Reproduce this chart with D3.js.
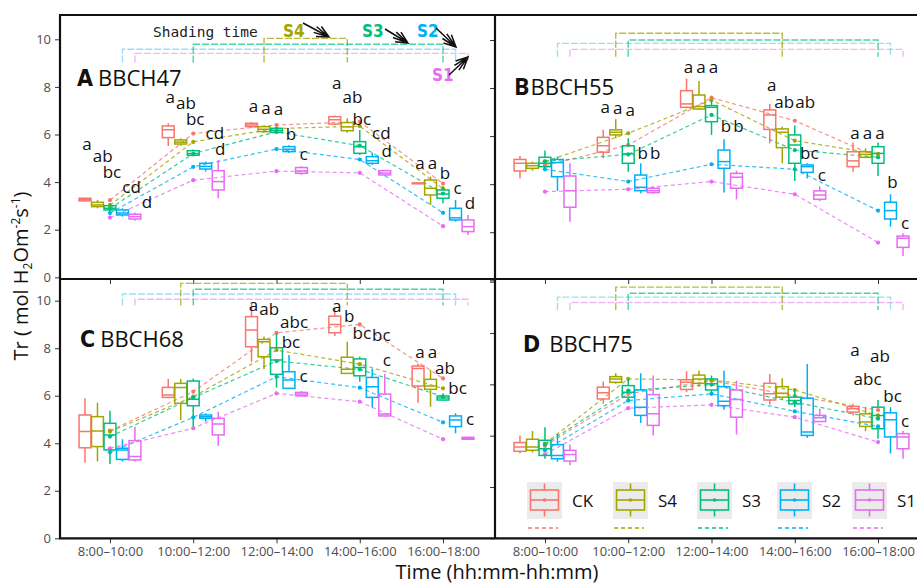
<!DOCTYPE html>
<html>
<head>
<meta charset="utf-8">
<script src="https://cdn.jsdelivr.net/npm/d3@7"></script>
<style>
  body { margin: 0; background: #fff; }
  svg text { font-family: "Open Sans", "DejaVu Sans", sans-serif; }
</style>
</head>
<body>
<svg id="chart" width="917" height="585"></svg>
<script>
const times = ["8:00\u201310:00", "10:00\u201312:00", "12:00\u201314:00", "14:00\u201316:00", "16:00\u201318:00"];
const series = ["CK", "S4", "S3", "S2", "S1"];
const stages = ["BBCH47", "BBCH55", "BBCH68", "BBCH75"];
const tags = ["A", "B", "C", "D"];
const yTicks = [0, 2, 4, 6, 8, 10];

// boxes: per time slot, per series -> [min, q1, median, q3, max]
const boxA = [
  [[3.17,3.21,3.26,3.32,3.35],[2.90,2.97,3.04,3.15,3.25],[2.76,2.83,2.90,3.01,3.11],[2.55,2.62,2.70,2.83,2.90],[2.38,2.45,2.55,2.65,2.72]],
  [[5.52,5.87,6.20,6.36,6.47],[5.53,5.60,5.68,5.77,5.84],[5.08,5.13,5.20,5.32,5.37],[4.44,4.55,4.66,4.79,4.86],[3.32,3.67,4.02,4.48,4.93]],
  [[6.28,6.33,6.40,6.47,6.52],[6.07,6.12,6.22,6.33,6.38],[6.04,6.09,6.17,6.26,6.30],[5.22,5.28,5.38,5.49,5.55],[4.30,4.37,4.47,4.61,4.67]],
  [[6.40,6.44,6.62,6.75,6.80],[6.08,6.16,6.32,6.50,6.68],[5.14,5.21,5.49,5.70,6.19],[4.72,4.79,4.90,5.07,5.24],[4.25,4.30,4.38,4.48,4.52]],
  [[3.92,3.93,3.95,3.96,3.98],[3.04,3.46,3.74,4.09,4.23],[3.11,3.32,3.50,3.67,3.81],[2.34,2.41,2.50,2.90,3.25],[1.78,1.92,2.13,2.41,2.62]]
];
const boxB = [
  [[4.24,4.55,4.87,5.03,5.17],[4.56,4.66,4.77,4.87,4.94],[4.66,4.73,4.87,5.12,5.40],[3.72,4.31,4.90,5.03,5.15],[2.44,3.04,3.73,4.34,4.87]],
  [[5.08,5.33,5.60,5.95,6.26],[5.91,6.05,6.16,6.26,6.71],[4.52,4.87,5.26,5.60,5.91],[3.62,3.73,3.87,4.38,4.87],[3.60,3.65,3.73,3.83,3.90]],
  [[7.16,7.20,7.34,7.89,8.40],[7.09,7.13,7.23,7.71,8.29],[6.05,6.60,7.20,7.27,7.50],[3.65,4.66,4.94,5.42,5.87],[3.37,3.83,4.29,4.45,4.56]],
  [[5.70,6.28,6.88,7.09,7.34],[4.87,5.52,6.16,6.30,6.39],[4.13,4.87,5.63,6.05,6.44],[4.24,4.49,4.73,4.80,4.87],[3.30,3.37,3.55,3.72,3.90]],
  [[4.52,4.73,4.97,5.35,5.73],[5.08,5.12,5.24,5.35,5.49],[4.34,4.87,5.28,5.56,5.73],[2.23,2.55,2.90,3.25,3.58],[1.01,1.37,1.75,1.84,1.96]]
];
const boxC = [
  [[3.18,3.81,4.49,5.19,5.89],[3.23,3.86,4.52,5.12,5.71],[3.13,3.72,4.35,4.84,5.37],[3.23,3.32,3.72,3.79,4.17],[3.23,3.30,3.44,4.11,4.70]],
  [[5.93,5.93,6.03,6.35,6.70],[4.98,5.68,6.35,6.52,6.70],[4.70,5.58,5.85,6.62,6.73],[4.91,5.05,5.12,5.19,5.26],[3.90,4.35,4.81,5.05,5.33]],
  [[7.43,8.06,8.77,9.33,9.89],[7.11,7.64,8.27,8.37,8.49],[6.35,6.90,7.50,8.02,8.63],[6.31,6.31,6.66,7.01,7.71],[5.97,6.00,6.07,6.14,6.20]],
  [[8.51,8.65,9.00,9.35,9.68],[6.91,6.94,7.11,7.62,8.27],[6.59,6.84,7.19,7.55,7.64],[5.50,5.93,6.38,6.77,7.15],[5.12,5.15,5.23,6.07,6.91]],
  [[5.71,6.41,7.15,7.25,7.36],[5.54,6.27,6.41,6.69,7.08],[5.79,5.82,5.90,5.99,6.10],[4.42,4.70,4.98,5.15,5.26],[4.15,4.17,4.20,4.25,4.27]]
];
const boxD = [
  [[3.30,3.39,3.56,3.73,4.01],[3.34,3.43,3.56,3.86,4.18],[3.10,3.23,3.49,3.82,4.33],[2.98,3.10,3.23,3.65,4.07],[2.85,3.01,3.27,3.43,3.66]],
  [[5.24,5.43,5.67,5.89,6.11],[6.02,6.08,6.21,6.30,6.43],[5.30,5.50,5.69,5.95,6.21],[4.49,4.79,5.11,5.78,6.43],[4.01,4.40,4.85,5.60,6.34]],
  [[5.69,5.80,6.08,6.18,6.51],[5.91,6.04,6.21,6.36,6.53],[5.63,5.78,6.02,6.21,6.34],[5.01,5.17,5.34,5.91,6.53],[4.05,4.72,5.41,5.78,6.14]],
  [[5.21,5.39,5.63,6.04,6.40],[5.39,5.50,5.65,5.91,6.24],[5.11,5.24,5.37,5.50,5.78],[3.92,4.01,4.14,5.46,6.79],[4.53,4.55,4.70,4.79,5.05]],
  [[4.79,4.92,5.05,5.14,5.24],[4.18,4.36,4.53,4.85,5.11],[3.88,4.27,4.79,5.11,5.39],[3.30,3.95,4.62,4.89,5.11],[3.10,3.49,3.95,4.08,4.18]]
];

// means: per time slot, per series
const meanA = [[3.24,3.03,2.89,2.70,2.51],[6.04,5.69,5.20,4.64,4.08],[6.40,6.25,6.11,5.39,4.46],[6.54,6.35,5.53,4.95,4.39],[3.94,3.73,3.52,2.71,2.15]];
const meanB = [[4.77,4.94,4.95,4.62,3.69],[5.63,6.12,5.24,4.11,3.79],[7.60,7.50,6.88,4.83,4.11],[6.64,5.81,5.42,4.62,3.58],[5.12,5.26,5.12,2.90,1.57]];
const meanC = [[4.53,4.49,4.28,3.62,3.79],[6.17,5.96,5.92,5.09,4.63],[8.65,7.92,7.46,6.80,6.10],[9.00,7.33,7.11,6.34,5.75],[6.73,6.31,5.96,4.88,4.17]];
const meanD = [[3.60,3.69,3.66,3.43,3.27],[5.63,6.21,5.76,5.37,5.07],[6.14,6.17,5.99,5.63,5.20],[5.55,5.78,5.30,4.95,4.72],[5.00,4.79,4.66,4.36,3.75]];

// significance letters: [time slot, series, letters, y]
const letterA = [
  [0,0,"a",5.55],[0,1,"ab",5.06],[0,2,"bc",4.39],[0,3,"cd",3.77],[0,4,"d",3.14],
  [1,0,"a",7.52],[1,1,"ab",7.28],[1,2,"bc",6.63],[1,3,"cd",6.04],[1,4,"d",5.34],
  [2,0,"a",7.17],[2,1,"a",7.07],[2,2,"a",7.03],[2,3,"b",5.97],[2,4,"c",5.13],
  [3,0,"a",8.12],[3,1,"ab",7.52],[3,2,"bc",6.63],[3,3,"cd",6.04],[3,4,"d",5.27],
  [4,0,"a",4.75],[4,1,"a",4.75],[4,2,"b",4.36],[4,3,"c",3.69],[4,4,"d",3.07]
];
const letterB = [
  [1,0,"a",7.16],[1,1,"a",7.12],[1,2,"a",7.06],[1,3,"b",5.26],[1,4,"b",5.26],
  [2,0,"a",8.82],[2,1,"a",8.82],[2,2,"a",8.82],[2,3,"b",6.37],[2,4,"b",6.37],
  [3,0,"a",8.09],[3,1,"ab",7.39],[3,2,"ab",7.39],[3,3,"bc",5.26],[3,4,"c",4.32],
  [4,0,"a",6.09],[4,1,"a",6.09],[4,2,"a",6.09],[4,3,"b",4.06],[4,4,"c",2.34]
];
const letterC = [
  [2,0,"a",9.78],[2,1,"ab",9.61],[2,2,"abc",9.07],[2,3,"bc",8.23],[2,4,"c",6.77],
  [3,0,"a",9.72],[3,1,"b",9.30],[3,2,"bc",8.60],[3,3,"bc",8.53],[3,4,"c",7.47],
  [4,0,"a",7.81],[4,1,"a",7.81],[4,2,"ab",7.11],[4,3,"bc",6.27],[4,4,"c",4.98]
];
const letterD = [[4,0,"a",7.28],[4,1,"abc",6.17],[4,2,"ab",7.07],[4,3,"bc",5.52],[4,4,"c",4.53]];

// shading period of S4, S3, S2, S1: [first slot, last slot]
const shadeA = [[2,3],[1,4],[0,4],[0,4]];
const shadeB = [[1,3],[1,4],[0,4],[0,4]];
const shadeC = [[1,3],[1,4],[0,4],[0,4]];
const shadeD = [[1,3],[1,4],[0,4],[0,4]];

const colors = ["#F8766D", "#A3A500", "#00BF7D", "#00B0F6", "#E76BF3"];
const bracketOpacity = [0.75, 0.7, 0.4, 0.5];

const svg = d3.select("#chart");

const panels = [
  {boxes: boxA, means: meanA, letters: letterA, shade: shadeA, x0: 60, x1: 495, top: 15, bottom: 279,
   y0: 277.3, y10: 39.3, levels: [10.04, 9.79, 9.58, 9.41], legs: 9.03, yLabels: true, xLabels: false,
   tagX: 77, tagY: 86, gap: 5, boldTag: false},
  {boxes: boxB, means: meanB, letters: letterB, shade: shadeB, x0: 495, x1: 930, top: 15, bottom: 279,
   y0: 280.3, y10: 40, levels: [10.28, 10.0, 9.86, 9.61], legs: 9.3, yLabels: false, xLabels: false,
   tagX: 514, tagY: 95, gap: 1, boldTag: true},
  {boxes: boxC, means: meanC, letters: letterC, shade: shadeC, x0: 60, x1: 495, top: 279, bottom: 538.3,
   y0: 538.3, y10: 300.7, levels: [10.73, 10.48, 10.28, 10.06], legs: 9.8, yLabels: true, xLabels: true,
   tagX: 80, tagY: 347, gap: 5, boldTag: false},
  {boxes: boxD, means: meanD, letters: letterD, shade: shadeD, x0: 495, x1: 930, top: 279, bottom: 538.3,
   y0: 538.3, y10: 281.7, levels: [9.79, 9.55, 9.40, 9.19], legs: 8.9, yLabels: false, xLabels: true,
   tagX: 523, tagY: 352, gap: 9, boldTag: false}
];

panels.forEach((p, pi) => {
  const g = svg.append("g");
  const clipId = "clip" + pi;
  svg.append("clipPath").attr("id", clipId).append("rect")
    .attr("x", p.x0).attr("y", p.top).attr("width", p.x1 - p.x0).attr("height", p.bottom - p.top);
  const body = g.append("g").attr("clip-path", `url(#${clipId})`);

  const x = d3.scalePoint().domain(times).range([p.x0, p.x1 - 2]).padding(0.6);
  const dodge = d3.scaleBand().domain(series).range([-x.step() * 0.375, x.step() * 0.375]);
  const y = d3.scaleLinear().domain([0, 10]).range([p.y0, p.y10]);
  const bw = dodge.bandwidth() * 0.95;
  const bx = (ti, si) => x(times[ti]) + dodge(series[si]) + dodge.bandwidth() / 2;

  // shading brackets
  p.shade.forEach((span, k) => {
    const si = k + 1;
    const xs = bx(span[0], si), xe = bx(span[1], si);
    body.append("path")
      .attr("d", `M${xs},${y(p.legs)}V${y(p.levels[k])}H${xe}V${y(p.legs)}`)
      .attr("fill", "none")
      .attr("stroke", colors[si])
      .attr("stroke-opacity", bracketOpacity[k])
      .attr("stroke-width", 1.4)
      .attr("stroke-dasharray", "7,2");
  });

  // mean lines and points
  series.forEach((s, si) => {
    const pts = times.map((t, ti) => [x(t), y(p.means[ti][si])]);
    body.append("path")
      .attr("d", d3.line()(pts))
      .attr("fill", "none")
      .attr("stroke", colors[si])
      .attr("stroke-opacity", 0.8)
      .attr("stroke-width", 1.2)
      .attr("stroke-dasharray", "4,3");
    body.selectAll(null).data(pts).enter().append("circle")
      .attr("cx", d => d[0]).attr("cy", d => d[1]).attr("r", 2.1)
      .attr("fill", colors[si]);
  });

  // boxes
  p.boxes.forEach((slot, ti) => {
    slot.forEach((b, si) => {
      const cx = bx(ti, si);
      const bg = body.append("g").attr("stroke", colors[si]).attr("stroke-width", 1.5).attr("fill", "none");
      bg.append("line").attr("x1", cx).attr("x2", cx).attr("y1", y(b[4])).attr("y2", y(b[3]));
      bg.append("line").attr("x1", cx).attr("x2", cx).attr("y1", y(b[1])).attr("y2", y(b[0]));
      bg.append("rect").attr("x", cx - bw / 2).attr("width", bw)
        .attr("y", y(b[3])).attr("height", Math.max(0.5, y(b[1]) - y(b[3])));
      bg.append("line").attr("x1", cx - bw / 2).attr("x2", cx + bw / 2).attr("y1", y(b[2])).attr("y2", y(b[2]));
    });
  });

  // significance letters, nudged right when they collide
  const placed = [];
  p.letters.forEach(([ti, si, txt, v]) => {
    const base = y(v) + 5;
    const t = body.append("text").attr("font-size", 17).attr("fill", "#111")
      .attr("text-anchor", "middle").attr("y", base).text(txt);
    const w = t.node().getComputedTextLength();
    const h = /[bd]/.test(txt) ? 14 : 11;
    let cx = bx(ti, si) + 2;
    placed.filter(q => q.ti === ti).forEach(q => {
      const vOverlap = base - h < q.base + 1 && q.base - q.h < base + 1;
      if (vOverlap && cx - w / 2 < q.right + 1) cx = q.right + 1 + w / 2;
    });
    t.attr("x", cx);
    placed.push({ti, base, h, right: cx + w / 2});
  });

  // panel tag
  const lab = g.append("text").attr("x", p.tagX).attr("y", p.tagY).attr("fill", "#111");
  lab.append("tspan").text(tags[pi])
    .attr("font-weight", "bold")
    .attr("font-size", 23)
    .style("font-family", p.boldTag ? "'Open Sans', sans-serif" : "'DejaVu Sans Condensed', 'DejaVu Sans', sans-serif")
    .style("font-stretch", p.boldTag ? "normal" : "condensed");
  lab.append("tspan").text(stages[pi]).attr("dx", p.gap).attr("font-size", 22);

  // axes
  const yAxis = d3.axisLeft(y).tickValues(yTicks).tickSize(5).tickPadding(4)
    .tickFormat(p.yLabels ? d3.format("d") : () => "");
  const ya = g.append("g").attr("transform", `translate(${p.x0},0)`).call(yAxis);
  const xAxis = d3.axisBottom(x).tickSize(5).tickPadding(3.5)
    .tickFormat(p.xLabels ? d => d : () => "");
  const xa = g.append("g").attr("transform", `translate(0,${p.bottom})`).call(xAxis);
  [ya, xa].forEach(a => {
    a.select(".domain").remove();
    a.selectAll(".tick line").attr("stroke", "#333");
    a.selectAll(".tick text").attr("fill", "#4d4d4d").attr("font-size", 13)
      .style("font-family", "'Open Sans', sans-serif");
  });

  // legend inside panel D
  if (pi === 3) {
    const legendX = [527, 613, 697, 777, 852];
    series.forEach((s, si) => {
      const lg = g.append("g").attr("transform", `translate(${legendX[si]},482)`);
      lg.append("rect").attr("width", 35).attr("height", 37).attr("fill", "#ebebeb");
      const kb = lg.append("g").attr("stroke", colors[si]).attr("stroke-width", 1.6).attr("fill", "none");
      kb.append("line").attr("x1", 17.5).attr("x2", 17.5).attr("y1", 1.5).attr("y2", 8);
      kb.append("line").attr("x1", 17.5).attr("x2", 17.5).attr("y1", 28).attr("y2", 34.5);
      kb.append("rect").attr("x", 3.5).attr("y", 8).attr("width", 28).attr("height", 20);
      kb.append("line").attr("x1", 3.5).attr("x2", 31.5).attr("y1", 18).attr("y2", 18);
      lg.append("circle").attr("cx", 17.5).attr("cy", 18).attr("r", 1.8).attr("fill", colors[si]);
      lg.append("text").attr("x", 45).attr("y", 24.5).attr("font-size", 17).attr("fill", "#111").text(s);
      lg.append("line").attr("x1", 1).attr("x2", 31).attr("y1", 46).attr("y2", 46)
        .attr("stroke", colors[si]).attr("stroke-width", 1.4).attr("stroke-dasharray", "4,3");
    });
  }
});

// frame
const frame = svg.append("g").attr("stroke", "#111").attr("stroke-width", 2.2).attr("fill", "none");
frame.append("path").attr("d", "M60,15H930V538.3H60Z");
frame.append("path").attr("d", "M495,15V538.3");
frame.append("path").attr("d", "M60,279H930");

// shading-time annotation in panel A
svg.append("text").attr("x", 153).attr("y", 37).attr("font-size", 14.5).attr("fill", "#222")
  .style("font-family", "'DejaVu Sans Mono', monospace").text("Shading time");
const notes = [
  {s: 1, lx: 283, ly: 37, from: [303, 23], to: [329, 37]},
  {s: 2, lx: 362, ly: 37, from: [385, 29], to: [408, 43]},
  {s: 3, lx: 417, ly: 37, from: [436, 28], to: [456, 47]},
  {s: 4, lx: 432, ly: 81, from: [449, 75], to: [468, 57]}
];
notes.forEach(n => {
  svg.append("text").attr("x", n.lx).attr("y", n.ly).attr("font-size", 17).attr("font-weight", "bold")
    .attr("fill", colors[n.s])
    .style("font-family", "'DejaVu Sans Condensed', 'DejaVu Sans', sans-serif").style("font-stretch", "condensed")
    .text(series[n.s]);
  const ang = Math.atan2(n.to[1] - n.from[1], n.to[0] - n.from[0]);
  const barb = (da, len) => [n.to[0] - len * Math.cos(ang + da), n.to[1] - len * Math.sin(ang + da)];
  const b1 = barb(0.45, 13), b2 = barb(-0.45, 13), b3 = barb(0.2, 16), b4 = barb(-0.2, 16);
  svg.append("path")
    .attr("d", `M${n.from}L${n.to}M${b1}L${n.to}L${b2}M${b3}L${n.to}L${b4}`)
    .attr("fill", "none").attr("stroke", "#111").attr("stroke-width", 1.5);
});

// axis titles
const yt = svg.append("text").attr("transform", "translate(28,276) rotate(-90)")
  .attr("text-anchor", "middle").attr("font-size", 20).attr("fill", "#111");
yt.append("tspan").text("Tr ( mol H");
yt.append("tspan").text("2").attr("font-size", 12).attr("dy", 4);
yt.append("tspan").text("Om").attr("dy", -4);
yt.append("tspan").text("-2").attr("font-size", 12).attr("dy", -8);
yt.append("tspan").text("s").attr("dy", 8);
yt.append("tspan").text("-1").attr("font-size", 12).attr("dy", -8);
yt.append("tspan").text(")").attr("dy", 8);

svg.append("text").attr("x", 497).attr("y", 579).attr("text-anchor", "middle")
  .attr("font-size", 20).attr("fill", "#111").text("Time (hh:mm-hh:mm)");
</script>
</body>
</html>
